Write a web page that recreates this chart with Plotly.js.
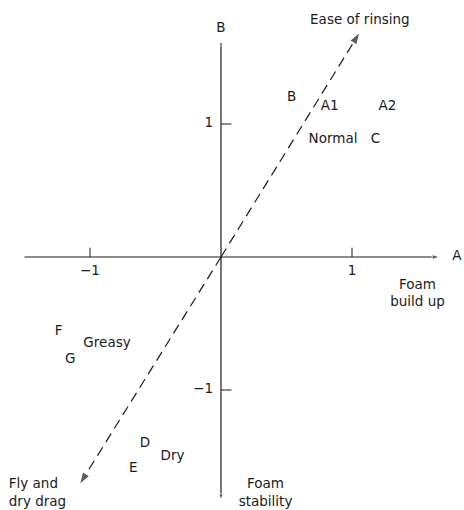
<!DOCTYPE html>
<html>
<head>
<meta charset="utf-8">
<script src="https://cdn.plot.ly/plotly-3.0.1.min.js"></script>
<style>
  html, body { margin: 0; padding: 0; background: #fff; }
  #chart { width: 464px; height: 510px; }
</style>
</head>
<body>
<div id="chart"></div>
<script>
// Sample positions on the two principal axes (A = foam build up, B = ease of rinsing)
const sampleNames = ['B', 'A1', 'A2', 'C', 'F', 'G', 'D', 'E'];
const sampleA = [0.54, 0.83, 1.27, 1.18, -1.24, -1.15, -0.58, -0.67];
const sampleB = [1.20, 1.13, 1.13, 0.88, -0.56, -0.77, -1.40, -1.59];

// Hair-type groups
const groupNames = ['Normal', 'Greasy', 'Dry'];
const groupA = [0.855, -0.87, -0.37];
const groupB = [0.88, -0.65, -1.50];

// Direction labels at the ends of the axes and of the diagonal
const dirNames = ['Ease of rinsing', 'Foam<br>build up', 'Foam<br>stability', 'A', 'B'];
const dirA = [1.06, 1.50, 0.34, 1.80, 0.0];
const dirB = [1.78, -0.28, -1.78, 0.0, 1.72];

// Axis extents
const axisAmin = -1.50, axisAmax = 1.67;
const axisBmin = -1.83, axisBmax = 1.63;

// Diagonal arrow tips (ease of rinsing / fly and dry drag)
const rinseTip = [1.06, 1.69];
const dragTip = [-1.08, -1.71];

// Tick values and labels
const tickVals = [-1, 1];
const tickLabels = ['\u22121', '1'];

const ink = '#1a1a1a';
const font = { family: '"DejaVu Sans", sans-serif', size: 13.5, color: ink };

const traces = [];

// Horizontal axis with arrow at its positive end
traces.push({
  x: [axisAmin, axisAmax], y: [0, 0], mode: 'lines+markers',
  line: { color: ink, width: 1.2 },
  marker: { symbol: 'arrow', size: [0, 8], angleref: 'previous', color: ink },
  hoverinfo: 'skip'
});
// Vertical axis, drawn as two halves so each end carries an arrow
traces.push({
  x: [0, 0], y: [0, axisBmax], mode: 'lines+markers',
  line: { color: ink, width: 1.2 },
  marker: { symbol: 'arrow', size: [0, 6], angleref: 'previous', color: ink },
  hoverinfo: 'skip'
});
traces.push({
  x: [0, 0], y: [0, axisBmin], mode: 'lines+markers',
  line: { color: ink, width: 1.2 },
  marker: { symbol: 'arrow', size: [0, 7], angleref: 'previous', color: ink },
  hoverinfo: 'skip'
});

// Tick marks: short strokes above the A axis, to the right of the B axis
const tkx = [], tky = [];
tickVals.forEach(v => { tkx.push(v, v, null); tky.push(0, 0.07, null); });
tickVals.forEach(v => { tkx.push(0, 0.08, null); tky.push(v, v, null); });
traces.push({ x: tkx, y: tky, mode: 'lines', line: { color: ink, width: 1 }, hoverinfo: 'skip' });

// Tick labels
traces.push({
  x: tickVals, y: tickVals.map(() => -0.11), text: tickLabels, mode: 'text',
  textfont: font, hoverinfo: 'skip'
});
traces.push({
  x: tickVals.map(() => -0.06), y: tickVals, text: tickLabels, mode: 'text',
  textposition: 'middle left', textfont: font, hoverinfo: 'skip'
});

// Dashed diagonal arrows from the origin
[rinseTip, dragTip].forEach(tip => {
  traces.push({
    x: [0, tip[0]], y: [0, tip[1]], mode: 'lines+markers',
    line: { color: ink, width: 1.2, dash: '10px,6px' },
    marker: { symbol: 'arrow', size: [0, 13], angleref: 'previous', color: ink },
    hoverinfo: 'skip'
  });
});

// Sample letters
traces.push({
  x: sampleA, y: sampleB, text: sampleNames, mode: 'text',
  textfont: font, hoverinfo: 'text'
});
// Group names
traces.push({
  x: groupA, y: groupB, text: groupNames, mode: 'text',
  textfont: font, hoverinfo: 'text'
});
// Direction labels
traces.push({
  x: dirA, y: dirB, text: dirNames, mode: 'text',
  textfont: font, hoverinfo: 'skip'
});
// Left-aligned label for the lower diagonal
traces.push({
  x: [-1.62], y: [-1.78], text: ['Fly and<br>dry drag'], mode: 'text',
  textposition: 'middle right', textfont: font, hoverinfo: 'skip'
});

const layout = {
  width: 464, height: 510,
  margin: { l: 0, r: 0, t: 0, b: 0 },
  paper_bgcolor: '#fff', plot_bgcolor: '#fff',
  showlegend: false,
  xaxis: { range: [-1.687, 1.855], visible: false, fixedrange: true },
  yaxis: { range: [-1.902, 1.932], visible: false, fixedrange: true },
  font: font
};

Plotly.newPlot('chart', traces, layout, { displayModeBar: false, staticPlot: true });
</script>
</body>
</html>
